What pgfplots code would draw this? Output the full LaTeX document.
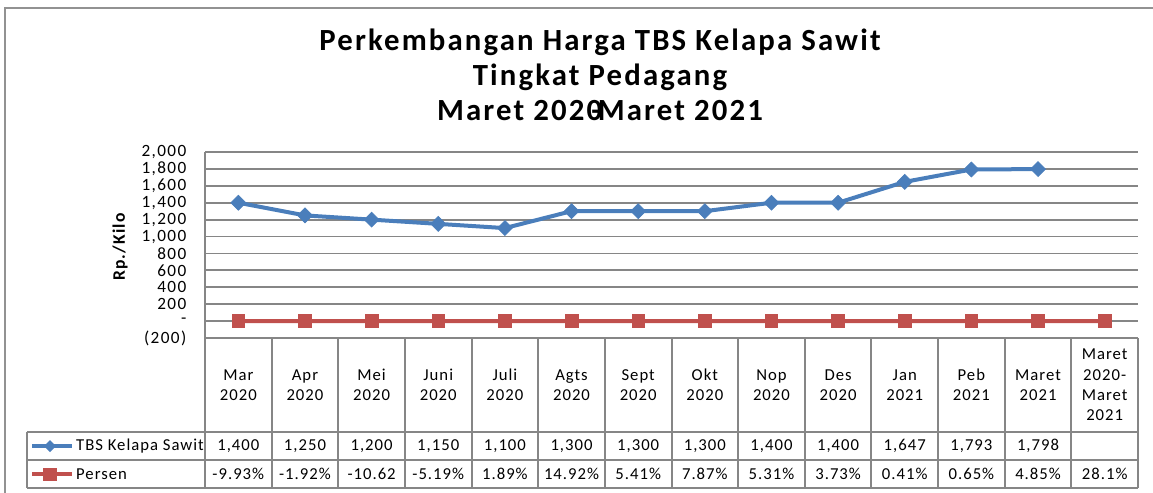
\documentclass[border=0pt]{standalone}
\usepackage{pgfplots}
\pgfplotsset{compat=1.18}
\usepackage{fontspec}
\setmainfont{Carlito}
\newfontfamily\tickfont[LetterSpace=8]{Carlito}
\newfontfamily\tabfont[LetterSpace=6]{Carlito}
\newfontfamily\titlefont[LetterSpace=7]{Carlito}
\definecolor{tbs}{RGB}{74,126,187}
\definecolor{persen}{RGB}{192,80,77}
\definecolor{gridgray}{RGB}{134,134,134}

\begin{document}
\begin{tikzpicture}
% frame of the chart
\draw[gridgray!90, line width=0.04cm] (0.10,-0.16) rectangle (23.4,-10.2);

\node[font=\titlefont\fontsize{17.5}{20}\selectfont\bfseries, align=center] at (12.0,-1.5)
  {Perkembangan Harga TBS Kelapa Sawit\\Tingkat Pedagang\\Maret 2020\kern-0.35em-\kern-0.1em Maret 2021};

\begin{axis}[
    at={(4.10cm,-6.76cm)}, anchor=south west,
    scale only axis, width=18.66cm, height=3.72cm,
    xmin=-0.5, xmax=13.5, ymin=-200, ymax=2000,
    xtick=\empty,
    ytick={-200,0,...,2000},
    yticklabels={(200),-,200,400,600,800,{1,000},{1,200},{1,400},{1,600},{1,800},{2,000}},
    yticklabel style={font=\tickfont\fontsize{9.8}{11}\selectfont, xshift=-0.25cm, inner ysep=0pt},
    ymajorgrids, grid style={gridgray, line width=0.035cm},
    axis line style={draw=none},
    major tick length=0pt,
    clip=false,
]
\addplot[tbs, line width=0.08cm, mark=square*, mark size=3pt,
    mark options={rotate=45, solid, line width=0.4pt}] coordinates {
    (0,1400) (1,1250) (2,1200) (3,1150) (4,1100) (5,1300) (6,1300)
    (7,1300) (8,1400) (9,1400) (10,1647) (11,1793) (12,1798)
};
\addplot[persen, line width=0.08cm, mark=square*, mark size=3.6pt,
    mark options={solid, line width=0.4pt}] coordinates {
    (0,-0.0993) (1,-0.0192) (2,-0.1062) (3,-0.0519) (4,0.0189) (5,0.1492) (6,0.0541)
    (7,0.0787) (8,0.0531) (9,0.0373) (10,0.0041) (11,0.0065) (12,0.0485) (13,0.281)
};
\end{axis}

\node[rotate=90, font=\titlefont\fontsize{10}{12}\selectfont\bfseries] at (2.40,-4.94) {Rp./Kilo};

% data table
\begin{scope}[gridgray, line width=0.04cm]
\draw (4.10,-3.04) -- (4.10,-9.76);
\foreach \k in {1,...,14} \draw (4.10+1.332857*\k,-6.76) -- (4.10+1.332857*\k,-9.76);
\draw (0.54,-8.64) -- (22.76,-8.64);
\draw (0.54,-9.20) -- (22.76,-9.20);
\draw (0.54,-9.76) -- (22.76,-9.76);
\draw (0.54,-8.64) -- (0.54,-9.76);
\end{scope}

\foreach \i/\lab in {0/{Mar\\2020},1/{Apr\\2020},2/{Mei\\2020},3/{Juni\\2020},4/{Juli\\2020},
    5/{Agts\\2020},6/{Sept\\2020},7/{Okt\\2020},8/{Nop\\2020},9/{Des\\2020},
    10/{Jan\\2021},11/{Peb\\2021},12/{Maret\\2021},13/{Maret\\2020-\\Maret\\2021}}
  \node[align=center, font=\tabfont\fontsize{9.5}{11.5}\selectfont] at (4.10+1.332857*\i+0.6664,-7.70) {\lab};

\foreach \i/\v in {0/{1,400},1/{1,250},2/{1,200},3/{1,150},4/{1,100},5/{1,300},6/{1,300},
    7/{1,300},8/{1,400},9/{1,400},10/{1,647},11/{1,793},12/{1,798}}
  \node[font=\tabfont\fontsize{9.5}{11.5}\selectfont] at (4.10+1.332857*\i+0.6664,-8.92) {\v};

\foreach \i/\v in {0/-9.93\%,1/-1.92\%,2/-10.62,3/-5.19\%,4/1.89\%,5/14.92\%,6/5.41\%,
    7/7.87\%,8/5.31\%,9/3.73\%,10/0.41\%,11/0.65\%,12/4.85\%,13/28.1\%}
  \node[font=\tabfont\fontsize{9.5}{11.5}\selectfont] at (4.10+1.332857*\i+0.6664,-9.48) {\v};

% legend keys
\draw[tbs, line width=0.08cm] (0.64,-8.92) -- (1.44,-8.92);
\fill[tbs] (1.00,-8.92) +(0,0.12) -- +(0.12,0) -- +(0,-0.12) -- +(-0.12,0) -- cycle;
\draw[persen, line width=0.08cm] (0.64,-9.48) -- (1.44,-9.48);
\fill[persen] (0.86,-9.61) rectangle (1.14,-9.35);
\node[anchor=west, font=\tabfont\fontsize{9.5}{11.5}\selectfont] at (1.40,-8.92) {TBS Kelapa Sawit};
\node[anchor=west, font=\tabfont\fontsize{9.5}{11.5}\selectfont] at (1.40,-9.48) {Persen};

\pgfresetboundingbox
\path[use as bounding box] (0,0) rectangle (23.06,-9.84);
\end{tikzpicture}
\end{document}
